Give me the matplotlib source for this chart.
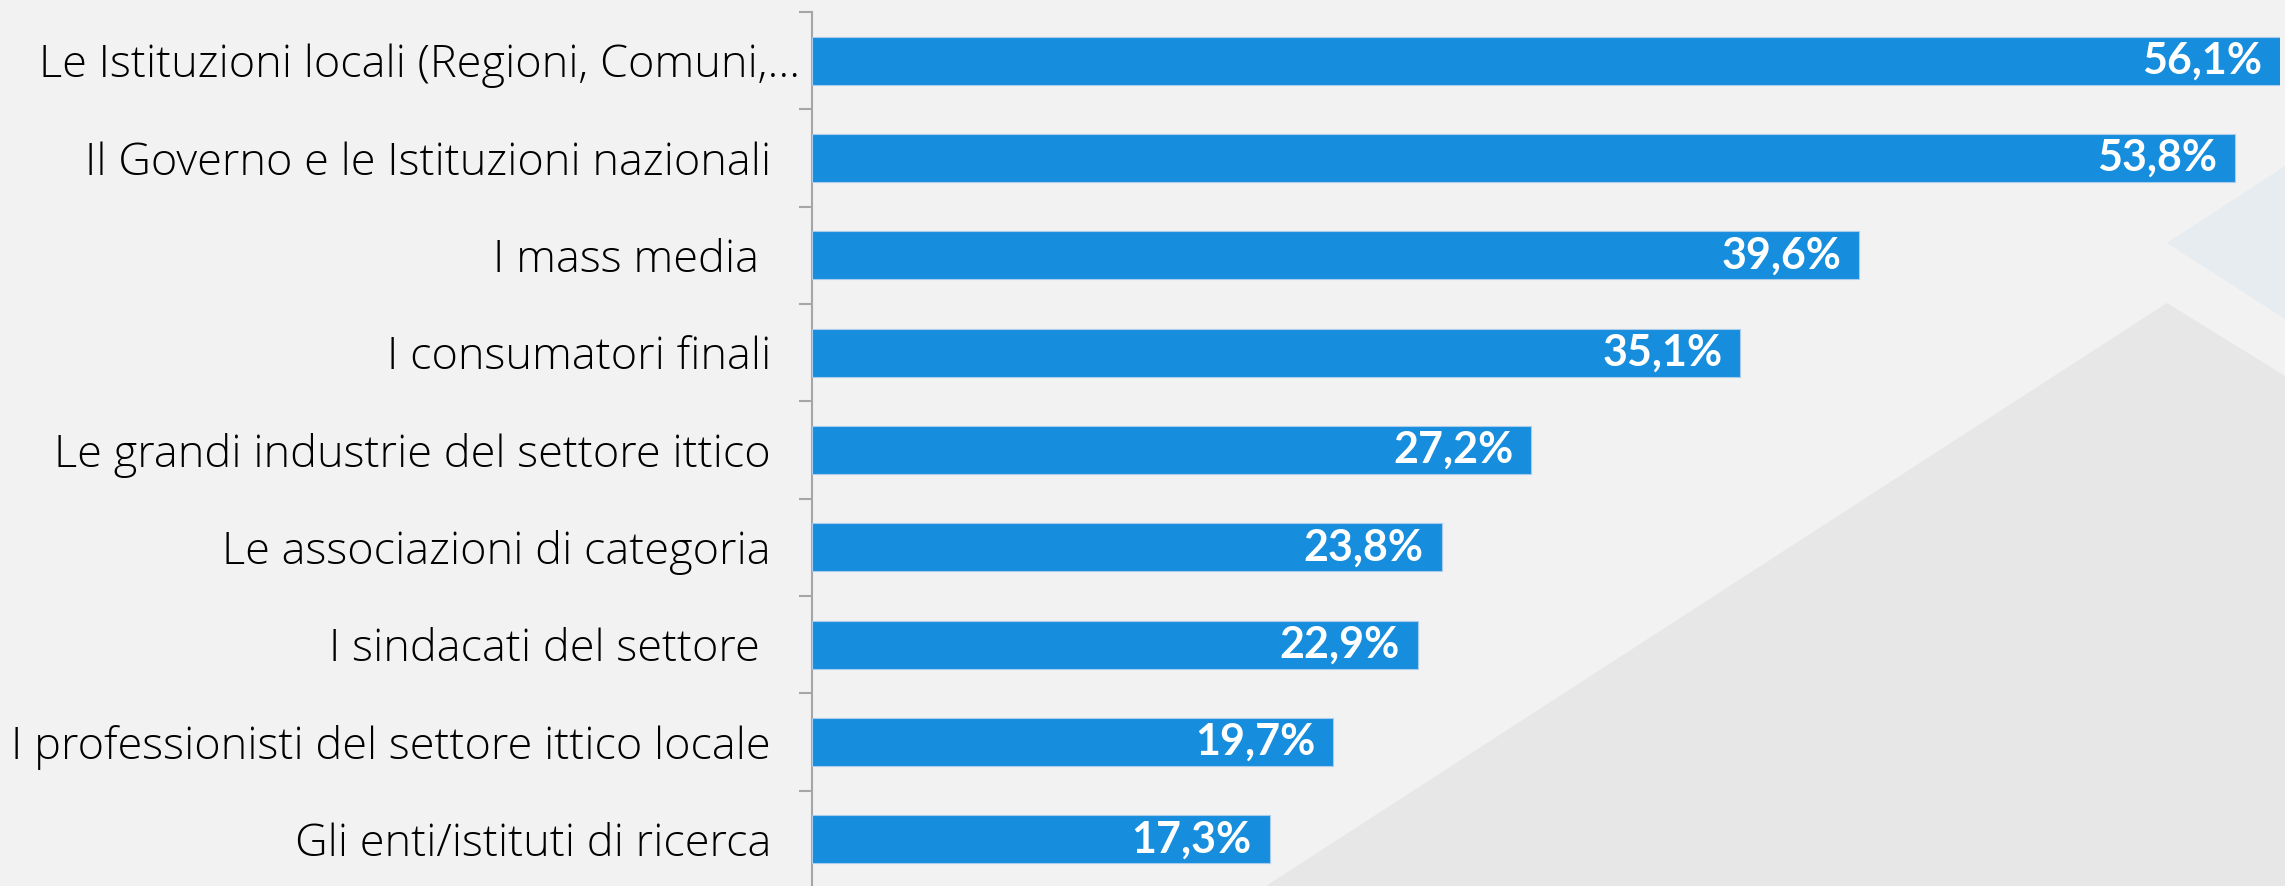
import matplotlib.pyplot as plt
from matplotlib.patches import Polygon
from matplotlib.transforms import ScaledTranslation

# Categories, top to bottom, and share of answers (%).
categories = [
    "Le Istituzioni locali (Regioni, Comuni,...",
    "Il Governo e le Istituzioni nazionali",
    "I mass media ",
    "I consumatori finali",
    "Le grandi industrie del settore ittico",
    "Le associazioni di categoria",
    "I sindacati del settore ",
    "I professionisti del settore ittico locale",
    "Gli enti/istituti di ricerca",
]
values = [56.1, 53.8, 39.6, 35.1, 27.2, 23.8, 22.9, 19.7, 17.3]
value_labels = ["56,1%", "53,8%", "39,6%", "35,1%", "27,2%",
                "23,8%", "22,9%", "19,7%", "17,3%"]

BG = "#F2F2F2"
BAR = "#168DDD"
AXIS = "#A6A6A6"
W, H = 2285, 886

fig = plt.figure(figsize=(W / 100, H / 100), dpi=100, facecolor=BG)


def px(points):
    # pixel coords (origin top-left) -> figure fraction
    return [(x / W, 1 - y / H) for x, y in points]


# Decorative background shapes.
fig.patches.append(Polygon(px([(2167, 243), (2285, 166), (2285, 319)]),
                           closed=True, transform=fig.transFigure,
                           facecolor="#E7ECF0", edgecolor="none", zorder=0))
fig.patches.append(Polygon(px([(1266, 886), (2167, 303), (2285, 376),
                               (2285, 886)]),
                           closed=True, transform=fig.transFigure,
                           facecolor="#E7E7E7", edgecolor="none", zorder=0))

ax = fig.add_axes([812 / W, -2 / H, (2280 - 812) / W, 876 / H])
ax.set_facecolor("none")

y = list(range(len(categories)))
ax.barh(y, values, height=0.49, color=BAR, edgecolor="#A8CCEA",
        linewidth=0.8, zorder=3)

xmax = 55.5
ax.set_xlim(0, xmax)
ax.set_ylim(len(categories) - 0.5, -0.5)

for yi, v, lab in zip(y, values, value_labels):
    ax.annotate(lab, (min(v, xmax), yi), xytext=(-13, 0),
                textcoords="offset points", ha="right", va="center",
                color="white", fontsize=31, fontweight="bold",
                family="Lato", zorder=4)

# Category axis: ticks sit between the categories.
for side in ("top", "right", "bottom"):
    ax.spines[side].set_visible(False)
ax.spines["left"].set_color(AXIS)
ax.spines["left"].set_linewidth(1.5)
ax.set_xticks([])
ax.set_yticks(y, categories)
ax.set_yticks([i - 0.5 for i in range(len(categories) + 1)], minor=True)
ax.tick_params(axis="y", which="major", length=0, pad=29.5)
ax.tick_params(axis="y", which="minor", length=9.4, width=1.5, color=AXIS)
for t in ax.get_yticklabels():
    t.set_fontfamily("Open Sans")
    t.set_fontweight("light")
    t.set_fontsize(32.5)
    t.set_color("black")

# the truncated first label runs closer to the axis
first = ax.get_yticklabels()[0]
first.set_transform(first.get_transform() +
                    ScaledTranslation(29 / 100, 0, fig.dpi_scale_trans))

fig.savefig("out.png", dpi=100, facecolor=BG)
